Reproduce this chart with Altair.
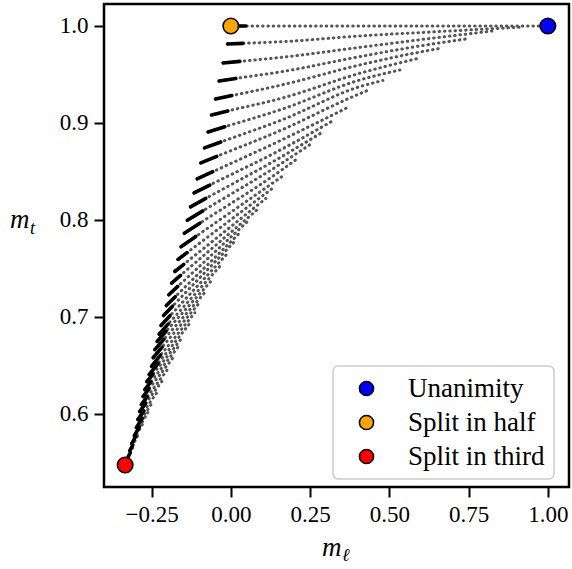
import altair as alt
import pandas as pd

# ---- curves: one list of m_l and one of m_t per curve ----
curve_ml = [
    [0.0, 0.047, 1.0],
    [-0.0104, 0.0379, 0.1609, 0.4069, 0.6593, 0.9180],
    [-0.0243, 0.0284, 0.1609, 0.4069, 0.6278, 0.8233],
    [-0.0369, 0.0158, 0.1609, 0.4069, 0.5962, 0.7413],
    [-0.0483, 0.0032, 0.1609, 0.4069, 0.5647, 0.6656],
    [-0.0609, -0.0095, 0.1609, 0.4069, 0.5962],
    [-0.0716, -0.0189, 0.1609, 0.4069, 0.5331],
    [-0.0830, -0.0315, 0.1609, 0.4069, 0.4795],
    [-0.0946, -0.0442, 0.1609, 0.3912, 0.4322],
    [-0.1063, -0.0568, 0.1609, 0.3659],
    [-0.1158, -0.0662, 0.1609, 0.3249],
    [-0.1271, -0.0789, 0.1609, 0.2839],
    [-0.1372, -0.0883, 0.1609, 0.2492],
    [-0.1467, -0.0978, 0.1609, 0.2114],
    [-0.1571, -0.1104, 0.1672],
    [-0.1666, -0.1382, 0.1388],
    [-0.1767, -0.1483, 0.1104],
    [-0.1868, -0.1584, 0.0820],
    [-0.1956, -0.1672, 0.0568],
    [-0.2035, -0.1751, 0.0315],
    [-0.2123, -0.1839, 0.0095],
    [-0.2202, -0.1918, -0.0126],
    [-0.2262, -0.1978, -0.0347],
    [-0.2325, -0.2041, -0.0568],
    [-0.2397, -0.2114, -0.0757],
    [-0.2451, -0.2167, -0.0946],
    [-0.2502, -0.2218, -0.1136],
    [-0.2577, -0.2293, -0.1325],
    [-0.2650, -0.2461, -0.1514],
    [-0.2713, -0.2524, -0.1672],
    [-0.2770, -0.2580, -0.1830],
    [-0.2823, -0.2634, -0.1987],
    [-0.2877, -0.2688, -0.2145],
    [-0.2934, -0.2744, -0.2303],
    [-0.2981, -0.2792, -0.2461],
    [-0.3044, -0.2886, -0.2618],
    [-0.3123, -0.2997, -0.2776],
    [-0.3186, -0.3091, -0.2934],
    [-0.3249, -0.3170, -0.3091],
]
curve_mt = [
    [1.0, 1.0, 1.0],
    [0.9814, 0.9821, 0.9838, 0.9897, 0.9943, 0.9988],
    [0.9619, 0.9635, 0.9677, 0.9780, 0.9871, 0.9948],
    [0.9433, 0.9459, 0.9529, 0.9684, 0.9794, 0.9866],
    [0.9247, 0.9282, 0.9392, 0.9598, 0.9711, 0.9773],
    [0.9082, 0.9123, 0.9255, 0.9512, 0.9670],
    [0.8907, 0.8960, 0.9141, 0.9443, 0.9546],
    [0.8742, 0.8803, 0.9031, 0.9374, 0.9438],
    [0.8588, 0.8655, 0.8928, 0.9280, 0.9336],
    [0.8423, 0.8497, 0.8825, 0.9155],
    [0.8278, 0.8359, 0.8729, 0.9027],
    [0.8134, 0.8221, 0.8653, 0.8894],
    [0.7995, 0.8092, 0.8585, 0.8775],
    [0.7861, 0.7965, 0.8515, 0.8635],
    [0.7722, 0.7828, 0.8459],
    [0.7591, 0.7661, 0.8343],
    [0.7467, 0.7541, 0.8220],
    [0.7347, 0.7427, 0.8100],
    [0.7227, 0.7313, 0.7995],
    [0.7115, 0.7207, 0.7876],
    [0.7012, 0.7109, 0.7768],
    [0.6909, 0.7010, 0.7645],
    [0.6820, 0.6924, 0.7519],
    [0.6745, 0.6850, 0.7387],
    [0.6660, 0.6766, 0.7273],
    [0.6577, 0.6687, 0.7160],
    [0.6488, 0.6603, 0.7041],
    [0.6402, 0.6519, 0.6918],
    [0.6330, 0.6406, 0.6791],
    [0.6247, 0.6327, 0.6684],
    [0.6175, 0.6256, 0.6573],
    [0.6093, 0.6175, 0.6460],
    [0.6021, 0.6105, 0.6346],
    [0.5938, 0.6026, 0.6231],
    [0.5856, 0.5953, 0.6121],
    [0.5773, 0.5861, 0.6011],
    [0.5691, 0.5767, 0.5896],
    [0.5619, 0.5677, 0.5774],
    [0.5546, 0.5598, 0.5649],
]

special_labels = ["Unanimity", "Split in half", "Split in third"]
special_ml = [1.0, 0.0, -0.3333]
special_mt = [1.0, 1.0, 0.547]
special_colors = ["#0000ff", "#ffa500", "#ff0000"]

x_ticks = [-0.25, 0.0, 0.25, 0.5, 0.75, 1.0]
y_ticks = [0.6, 0.7, 0.8, 0.9, 1.0]

# ---- tables ----
rows = []
for k, (xs, ys) in enumerate(zip(curve_ml, curve_mt)):
    for i, (xv, yv) in enumerate(zip(xs, ys)):
        rows.append({"curve": k, "idx": i, "ml": xv, "mt": yv})
df = pd.DataFrame(rows)
dense_df = df[df["idx"] <= 1]
sp_df = pd.DataFrame({"label": special_labels, "ml": special_ml, "mt": special_mt})

SERIF = "Liberation Serif"
xscale = alt.Scale(domain=[-0.4, 1.0667], nice=False, zero=False)
yscale = alt.Scale(domain=[0.5243, 1.0227], nice=False, zero=False)

xaxis = alt.Axis(values=x_ticks, title=None, grid=False, domain=False,
                 labelExpr="replace(format(datum.value, '.2f'), '-', '\u2212')",
                 tickSize=10, tickWidth=2, tickColor="black",
                 labelFont=SERIF, labelFontSize=23, labelColor="black", labelPadding=6)
yaxis = alt.Axis(values=y_ticks, title=None, grid=False, domain=False, format=".1f",
                 tickSize=10, tickWidth=2, tickColor="black",
                 labelFont=SERIF, labelFontSize=23, labelColor="black", labelPadding=6)

dots = alt.Chart(df).mark_line(
    strokeDash=[0.5, 4.8], strokeCap="round", strokeWidth=3,
    color="#555555", interpolate="monotone"
).encode(
    x=alt.X("ml:Q", scale=xscale, axis=xaxis),
    y=alt.Y("mt:Q", scale=yscale, axis=yaxis),
    detail="curve:N",
    order="idx:Q",
)

dense = alt.Chart(dense_df).mark_line(
    color="black", strokeWidth=3.6, strokeCap="round"
).encode(
    x=alt.X("ml:Q", scale=xscale),
    y=alt.Y("mt:Q", scale=yscale),
    detail="curve:N",
    order="idx:Q",
)

pts = alt.Chart(sp_df).mark_point(
    filled=True, size=240, stroke="black", strokeWidth=1.6, opacity=1
).encode(
    x=alt.X("ml:Q", scale=xscale),
    y=alt.Y("mt:Q", scale=yscale),
    color=alt.Color(
        "label:N",
        scale=alt.Scale(domain=special_labels, range=special_colors),
        sort=special_labels,
        legend=alt.Legend(
            title=None, orient="none", legendX=229, legendY=362,
            padding=9, cornerRadius=5, strokeColor="#cccccc", fillColor="white",
            labelFont=SERIF, labelFontSize=27, labelColor="black",
            symbolType="circle", symbolSize=200, symbolStrokeColor="black",
            symbolStrokeWidth=1.5, symbolOpacity=1,
            rowPadding=6, labelOffset=28, symbolOffset=11,
        ),
    ),
)

one = pd.DataFrame({"a": [0]})


def label_text(s, x, y, size):
    return alt.Chart(one).mark_text(
        font=SERIF, fontSize=size, fontStyle="italic", color="black",
        align="left", baseline="alphabetic"
    ).encode(x=alt.value(x), y=alt.value(y), text=alt.value(s))


titles = [
    label_text("m", -94, 224, 27),
    label_text("t", -74, 230, 18),
    label_text("m", 218, 552, 27),
    label_text("\u2113", 238, 557, 18),
]

chart = alt.layer(dots, dense, pts, *titles).properties(
    width=465, height=483,
    autosize=alt.AutoSizeParams(type="none"),
    padding={"left": 104, "top": 4, "right": 3, "bottom": 82},
).configure(
    font=SERIF
).configure_view(
    stroke="black", strokeWidth=2.5
).configure_axis(
    labelFont=SERIF
).configure_legend(
    strokeWidth=1.5, labelFont=SERIF
).configure_text(
    font=SERIF
)

chart.save("out.html", embed_options={"renderer": "svg", "actions": False})
